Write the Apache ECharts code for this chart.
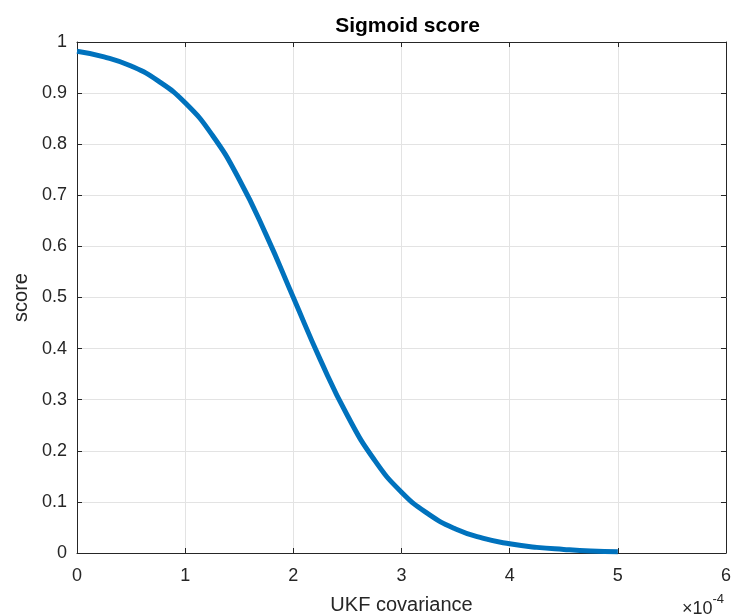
<!DOCTYPE html>
<html><head><meta charset="utf-8">
<script src="https://cdn.jsdelivr.net/npm/echarts@6/dist/echarts.min.js"></script>
<style>html,body{margin:0;padding:0;background:#fff}#c{width:732px;height:616px}</style>
</head><body><div id="c"></div>
<script>
// x in units of 1e-4
const covariance = [0, 0.25, 0.5, 0.75, 1, 1.25, 1.5, 1.75, 2, 2.25, 2.5, 2.75, 3, 3.25, 3.5, 3.75, 4, 4.25, 4.5, 4.75, 5];
const score = [0.982, 0.971, 0.953, 0.924, 0.881, 0.818, 0.731, 0.622, 0.5, 0.378, 0.269, 0.182, 0.119, 0.076, 0.047, 0.029, 0.018, 0.011, 0.007, 0.004, 0.0025];
const titleText = 'Sigmoid score';
const xName = 'UKF covariance';
const yName = 'score';

const FONT = '"Liberation Sans", Arial, sans-serif';
const TXT = '#262626';
const chart = echarts.init(document.getElementById('c'), null, {renderer: 'canvas'});
const L = 77, R = 6, T = 42, B = 63;
const gridLine = {show: true, lineStyle: {color: '#e3e3e3', width: 1}};
const tick = {show: true, inside: true, length: 5, lineStyle: {color: '#262626'}};
const axLine = {show: true, onZero: false, lineStyle: {color: '#262626', width: 1}};
chart.setOption({
  animation: false,
  backgroundColor: '#fff',
  title: {text: titleText, left: (L + 732 - R) / 2 + 1, textAlign: 'center', top: 11,
    textStyle: {fontFamily: FONT, fontSize: 21, fontWeight: 'bold', color: '#000'}},
  grid: {left: L, right: R, top: T, bottom: B, containLabel: false, outerBoundsMode: 'none'},
  xAxis: [
    {type: 'value', min: 0, max: 6, interval: 1, position: 'bottom',
     name: xName, nameLocation: 'middle', nameGap: 42,
     nameTextStyle: {fontFamily: FONT, fontSize: 20, color: TXT},
     axisLine: axLine, axisTick: tick, splitLine: gridLine,
     axisLabel: {fontFamily: FONT, fontSize: 18, color: TXT, margin: 14}},
    {type: 'value', min: 0, max: 6, interval: 1, position: 'top',
     axisLine: axLine, axisTick: tick, splitLine: {show: false}, axisLabel: {show: false}}
  ],
  yAxis: [
    {type: 'value', min: 0, max: 1, interval: 0.1, position: 'left',
     name: yName, nameLocation: 'middle', nameGap: 42, nameRotate: 90,
     nameTextStyle: {fontFamily: FONT, fontSize: 20, color: TXT},
     axisLine: axLine, axisTick: tick, splitLine: gridLine,
     axisLabel: {fontFamily: FONT, fontSize: 18, color: TXT, margin: 10,
       formatter: v => (Math.round(v * 10) / 10).toString()}},
    {type: 'value', min: 0, max: 1, interval: 0.1, position: 'right',
     axisLine: axLine, axisTick: tick, splitLine: {show: false}, axisLabel: {show: false}}
  ],
  series: [{
    type: 'line', xAxisIndex: 0, yAxisIndex: 0, smooth: true, showSymbol: false,
    data: covariance.map((x, i) => [x, score[i]]),
    lineStyle: {color: '#0072BD', width: 5}, itemStyle: {color: '#0072BD'}
  }],
  graphic: [{
    type: 'text', right: 8, top: 593,
    style: {
      text: '{a|×10}{b|-4}',
      rich: {
        a: {fontFamily: FONT, fontSize: 18, fill: TXT, verticalAlign: 'bottom'},
        b: {fontFamily: FONT, fontSize: 13, fill: TXT, verticalAlign: 'top', padding: [0, 0, 12, 0]}
      }
    }
  }]
});
</script></body></html>
